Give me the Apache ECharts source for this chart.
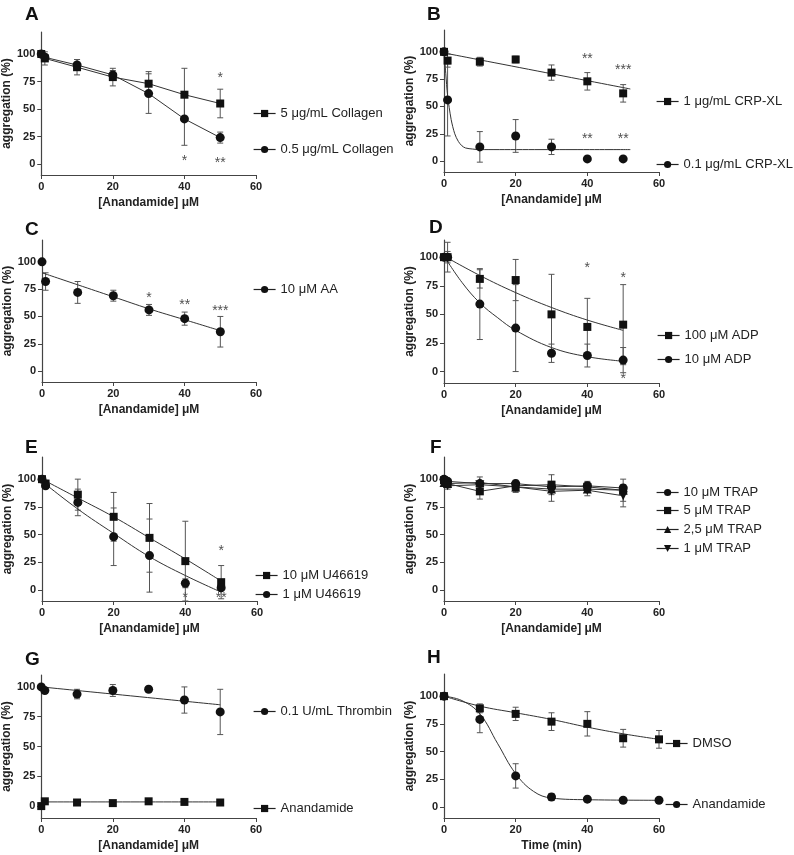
<!DOCTYPE html>
<html><head><meta charset="utf-8">
<script src="https://cdn.jsdelivr.net/npm/echarts@6/dist/echarts.min.js"></script>
<style>html,body{margin:0;padding:0;background:#fff}#c{width:794px;height:855px}</style>
</head><body><div id="c"></div>
<script>
// ---- data ----
const xConc = [0, 1, 10, 20, 30, 40, 50];
const xTime = [0, 10, 20, 30, 40, 50, 60];
const yTicks = [0, 25, 50, 75, 100];

const aCol5 = [100, 96, 88, 79, 73, 63, 55];
const aCol5Err = [0, 6, 7, 8, 11, 24, 13];
const aCol05 = [100, 97, 90, 81, 64, 41, 24];
const aCol05Err = [0, 3, 5, 4, 18, 24, 5];
const aStars = [[50, 78, '*'], [40, 3, '*'], [50, 1, '**']];

const bCrp1 = [100, 92, 91, 93, 81, 73, 62];
const bCrp1Err = [0, 6, 4, 3, 7, 8, 8];
const bCrp01 = [100, 56, 13, 23, 13, 2, 2];
const bCrp01Err = [0, 33, 14, 15, 7, 2, 1];
const bFit1 = [[0, 99], [52, 66]];
const bFit01 = [[0, 100], [0.5, 80], [1, 60], [2, 38], [3, 25], [4, 18], [5, 14], [6, 12], [8, 11], [10, 10.5], [52, 10.5]];
const bStars = [[40, 93, '**'], [50, 83, '***'], [40, 20, '**'], [50, 20, '**']];

const cAA = [100, 82, 72, 69, 56, 48, 36];
const cAAErr = [0, 8, 10, 5, 5, 6, 14];
const cFit = [[0, 90], [10, 79], [20, 68], [30, 57], [40, 47], [50, 37]];
const cStars = [[30, 67, '*'], [40, 60, '**'], [50, 55, '***']];

const dAdp100 = [100, 100, 81, 80, 50, 39, 41];
const dAdp100Err = [0, 13, 8, 18, 35, 25, 35];
const dAdp10 = [100, 100, 59, 38, 16, 14, 10];
const dAdp10Err = [0, 5, 31, 38, 8, 10, 11];
const dFit100 = [[0, 101], [10, 84], [20, 69], [30, 56], [40, 45], [50, 36]];
const dFit10 = [[0, 101], [5, 78], [10, 60], [15, 47], [20, 36], [30, 21], [40, 13], [50, 9]];
const dStars = [[40, 90, '*'], [50, 82, '*'], [50, -7, '*']];

const eU10 = [100, 96, 86, 66, 47, 26, 7];
const eU10Err = [0, 3, 14, 22, 31, 36, 15];
const eU1 = [100, 94, 79, 48, 31, 6, 2];
const eU1Err = [0, 2, 12, 26, 33, 4, 2];
const eFit10 = [[0, 100], [10, 83], [20, 66], [30, 47], [40, 28], [50, 8]];
const eFit1 = [[0, 98], [10, 73], [20, 51], [30, 30], [40, 13], [50, -2]];
const eStars = [[50, 35, '*'], [40, -7, '*'], [50, -7, '**']];

const fT10 = [100, 98, 96, 96, 93, 94, 92];
const fT5 = [99, 96, 89, 94, 95, 93, 90];
const fT25 = [97, 96, 97, 93, 91, 91, 90];
const fT1 = [96, 94, 95, 93, 89, 90, 85];
const fErr = [0, 3, 7, 5, 9, 5, 10];

const gThr = [100, 97, 94, 97, 98, 89, 79];
const gThrErr = [0, 2, 4, 5, 0, 11, 19];
const gAna = [0, 4, 3, 2.5, 4, 3.5, 3];
const gAnaErr = [0, 1, 1, 1, 2, 2, 1];
const gFitThr = [[0, 100], [50, 85]];
const gFitAna = [[0, 3.5], [50, 3.5]];

const hDmso = [100, 89, 84, 77, 75, 62, 61];
const hDmsoErr = [0, 4, 6, 8, 11, 8, 8];
const hAna = [100, 79, 28, 9, 7, 6, 6];
const hAnaErr = [0, 12, 11, 3, 1, 2, 2];
const hFitDmso = [[0, 100], [10, 91], [20, 85], [30, 79], [40, 72], [50, 66], [60, 61]];
const hFitAna = [[0, 100], [5, 96], [10, 84], [15, 57], [20, 30], [25, 14], [30, 8], [40, 6.5], [60, 6]];

// ---- layout ----
const FONT = 'Arial, "Liberation Sans", sans-serif';
const DOWN = 'path://M0,0 L10,0 L5,10 Z';
const panels = [
  {L:'A', lx:25, ly:5,  g:{left:40, top:32, width:216, height:143}, ymax:120, xname:'[Anandamide] μM'},
  {L:'B', lx:427,ly:5,  g:{left:444,top:30, width:215, height:142}, ymax:120, xname:'[Anandamide] μM'},
  {L:'C', lx:25, ly:220,g:{left:42, top:240,width:214, height:142}, ymax:120, xname:'[Anandamide] μM'},
  {L:'D', lx:429,ly:218,g:{left:444,top:240,width:215, height:143}, ymax:115, xname:'[Anandamide] μM'},
  {L:'E', lx:25, ly:438,g:{left:42, top:457,width:215, height:144}, ymax:120, xname:'[Anandamide] μM'},
  {L:'F', lx:430,ly:438,g:{left:444,top:457,width:215, height:144}, ymax:120, xname:'[Anandamide] μM'},
  {L:'G', lx:25, ly:650,g:{left:40, top:675,width:216, height:143}, ymax:110, xname:'[Anandamide] μM'},
  {L:'H', lx:427,ly:648,g:{left:444,top:674,width:215, height:144}, ymax:120, xname:'Time (min)'}
];

const grid = [], xAxis = [], yAxis = [], series = [], legend = [], graphic = [];
panels.forEach((p, i) => {
  grid.push(p.g);
  xAxis.push({gridIndex:i, type:'value', min:0, max:60, interval:20, name:p.xname, nameLocation:'middle', nameGap:22,
    nameTextStyle:{fontFamily:FONT, fontWeight:'bold', fontSize:12, color:'#222'},
    axisLine:{onZero:false, lineStyle:{color:'#444', width:1.2}}, axisTick:{length:4, lineStyle:{color:'#444'}},
    axisLabel:{fontFamily:FONT, fontWeight:'bold', fontSize:11, color:'#222', margin:6}, splitLine:{show:false}});
  yAxis.push({gridIndex:i, type:'value', min:-10, max:p.ymax, name:'aggregation (%)', nameLocation:'middle', nameGap:28,
    nameTextStyle:{fontFamily:FONT, fontWeight:'bold', fontSize:12, color:'#222'},
    axisLine:{show:true, onZero:false, lineStyle:{color:'#444', width:1.2}},
    axisTick:{show:true, length:4, customValues:yTicks, lineStyle:{color:'#444'}},
    axisLabel:{fontFamily:FONT, fontWeight:'bold', fontSize:11, color:'#222', margin:6, customValues:yTicks},
    splitLine:{show:false}});
  graphic.push({type:'text', left:p.lx, top:p.ly, style:{text:p.L, font:'bold 19px ' + FONT, fill:'#111'}});
});

function markers(i, name, xs, ys, symbol, connect) {
  series.push({type:'line', name, xAxisIndex:i, yAxisIndex:i, data:xs.map((x, k) => [x, ys[k]]),
    symbol, symbolSize: symbol === 'rect' ? 8 : 9, itemStyle:{color:'#111'},
    lineStyle: connect ? {color:'#333', width:1} : {width:0, opacity:0}, z:5, animation:false});
}
function errors(i, xs, ys, es) {
  series.push({type:'custom', xAxisIndex:i, yAxisIndex:i, data:xs.map((x, k) => [x, ys[k], es[k]]), z:3,
    renderItem:(params, api) => {
      const x = api.value(0), y = api.value(1), e = api.value(2);
      if (!e) return null;
      const a = api.coord([x, y + e]), b = api.coord([x, y - e]);
      const st = {stroke:'#555', lineWidth:1};
      return {type:'group', children:[
        {type:'line', shape:{x1:a[0], y1:a[1], x2:b[0], y2:b[1]}, style:st},
        {type:'line', shape:{x1:a[0]-3, y1:a[1], x2:a[0]+3, y2:a[1]}, style:st},
        {type:'line', shape:{x1:b[0]-3, y1:b[1], x2:b[0]+3, y2:b[1]}, style:st}]};
    }, animation:false});
}
function fit(i, pts) {
  series.push({type:'line', xAxisIndex:i, yAxisIndex:i, data:pts, smooth:0.4, symbol:'none',
    lineStyle:{color:'#333', width:1}, z:4, animation:false});
}
function stars(i, list) {
  series.push({type:'scatter', xAxisIndex:i, yAxisIndex:i, symbolSize:0,
    data:list.map(s => ({value:[s[0], s[1]], name:s[2]})),
    label:{show:true, formatter:'{b}', position:'inside', fontFamily:FONT, fontSize:14, color:'#222'}, animation:false});
}
function leg(name, left, cy) {
  legend.push({data:[name], left, top:cy - 8, selectedMode:false, itemWidth:22, itemHeight:9, itemGap:0,
    lineStyle:{color:'#222', width:1.2, opacity:1, type:'solid'}, itemStyle:{color:'#111'},
    textStyle:{fontFamily:FONT, fontSize:13, color:'#222'}});
}

// A
errors(0, xConc, aCol5, aCol5Err); errors(0, xConc, aCol05, aCol05Err);
markers(0, '5 μg/mL Collagen', xConc, aCol5, 'rect', true);
markers(0, '0.5 μg/mL Collagen', xConc, aCol05, 'circle', true);
stars(0, aStars);
leg('5 μg/mL Collagen', 248, 110); leg('0.5 μg/mL Collagen', 248, 146);
// B
errors(1, xConc, bCrp1, bCrp1Err); errors(1, xConc, bCrp01, bCrp01Err);
fit(1, bFit1); series.push({type:'line', xAxisIndex:1, yAxisIndex:1, data:bFit01, symbol:'none', smooth:0.3, lineStyle:{color:'#333', width:1}, animation:false});
markers(1, '1 μg/mL CRP-XL', xConc, bCrp1, 'rect', false);
markers(1, '0.1 μg/mL CRP-XL', xConc, bCrp01, 'circle', false);
stars(1, bStars);
leg('1 μg/mL CRP-XL', 651, 98); leg('0.1 μg/mL CRP-XL', 651, 161);
// C
errors(2, xConc, cAA, cAAErr); fit(2, cFit);
markers(2, '10 μM AA', xConc, cAA, 'circle', false);
stars(2, cStars);
leg('10 μM AA', 248, 286);
// D
errors(3, xConc, dAdp100, dAdp100Err); errors(3, xConc, dAdp10, dAdp10Err);
fit(3, dFit100); fit(3, dFit10);
markers(3, '100 μM ADP', xConc, dAdp100, 'rect', false);
markers(3, '10 μM ADP', xConc, dAdp10, 'circle', false);
stars(3, dStars);
leg('100 μM ADP', 652, 332); leg('10 μM ADP', 652, 356);
// E
errors(4, xConc, eU10, eU10Err); errors(4, xConc, eU1, eU1Err);
fit(4, eFit10); fit(4, eFit1);
markers(4, '10 μM U46619', xConc, eU10, 'rect', false);
markers(4, '1 μM U46619', xConc, eU1, 'circle', false);
stars(4, eStars);
leg('10 μM U46619', 250, 572); leg('1 μM U46619', 250, 591);
// F
errors(5, xConc, fT5, fErr); errors(5, xConc, fT1, fErr);
markers(5, '10 μM TRAP', xConc, fT10, 'circle', true);
markers(5, '5 μM TRAP', xConc, fT5, 'rect', true);
markers(5, '2,5 μM TRAP', xConc, fT25, 'triangle', true);
markers(5, '1 μM TRAP', xConc, fT1, DOWN, true);
leg('10 μM TRAP', 651, 489); leg('5 μM TRAP', 651, 507); leg('2,5 μM TRAP', 651, 526); leg('1 μM TRAP', 651, 545);
// G
errors(6, xConc, gThr, gThrErr); errors(6, xConc, gAna, gAnaErr);
fit(6, gFitThr); fit(6, gFitAna);
markers(6, '0.1 U/mL Thrombin', xConc, gThr, 'circle', false);
markers(6, 'Anandamide', xConc, gAna, 'rect', false);
leg('0.1 U/mL Thrombin', 248, 708); leg('Anandamide', 248, 805);
// H
errors(7, xTime, hDmso, hDmsoErr); errors(7, xTime, hAna, hAnaErr);
fit(7, hFitDmso); fit(7, hFitAna);
markers(7, 'DMSO', xTime, hDmso, 'rect', false);
markers(7, 'Anandamide\u200b', xTime, hAna, 'circle', false);
leg('DMSO', 660, 740); leg('Anandamide\u200b', 660, 801);

const chart = echarts.init(document.getElementById('c'), null, {renderer:'canvas'});
chart.setOption({animation:false, backgroundColor:'#fff', grid, xAxis, yAxis, series, legend, graphic});
</script></body></html>
